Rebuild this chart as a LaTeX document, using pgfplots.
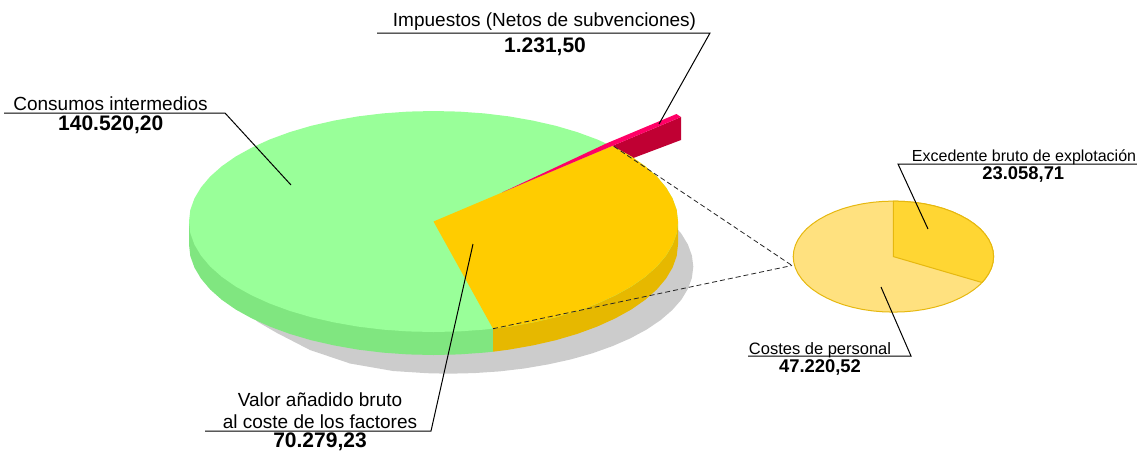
\documentclass[border=0pt]{standalone}
\usepackage{fontspec}
\setmainfont{Liberation Sans}
\usepackage{pgfplots}
\pgfplotsset{compat=1.18}

\definecolor{shadowgray}{HTML}{CCCCCC}
\definecolor{greentop}{HTML}{99FF99}
\definecolor{greenside}{HTML}{80E680}
\definecolor{yellowtop}{HTML}{FFCC00}
\definecolor{yellowside}{HTML}{E6B800}
\definecolor{pinktop}{HTML}{FF0066}
\definecolor{redside}{HTML}{C00033}
\definecolor{sublight}{HTML}{FFE17F}
\definecolor{subdark}{HTML}{FFD633}
\definecolor{subedge}{HTML}{E6B80F}

\newcommand{\lblbig}{\fontsize{19}{19}\selectfont}
\newcommand{\valbig}{\fontsize{21}{21}\selectfont\bfseries}
\newcommand{\lblsmall}{\fontsize{16}{16}\selectfont}
\newcommand{\lblcost}{\fontsize{16.5}{16.5}\selectfont}
\newcommand{\valsmall}{\fontsize{18.4}{18.4}\selectfont\bfseries}

\begin{document}
\begin{tikzpicture}
  \path[use as bounding box] (0,0) rectangle (1137pt,451pt);
  \begin{axis}[
    at={(0,0)}, anchor=south west,
    scale only axis,
    width=1137pt, height=451pt,
    xmin=0, xmax=1137, ymin=0, ymax=451,
    y dir=reverse,
    hide axis,
    clip=false,
    lead/.style={black, line width=1pt},
    dash/.style={black!85, line width=0.8pt, dash pattern=on 5pt off 3pt},
  ]

    % shadow
    \addplot[fill=shadowgray, draw=none] coordinates {
      (660.5,213.2) (672.1,223.2) (681.3,233.6) (687.9,244.5) (691.9,255.5) (693.3,266.7)
      (691.9,277.9) (687.9,288.9) (681.3,299.8) (672.1,310.2) (660.5,320.2) (646.5,329.6)
      (630.4,338.3) (612.3,346.2) (592.4,353.3) (570.9,359.4) (548.1,364.4) (524.1,368.5)
      (499.4,371.4) (474.1,373.1) (448.5,373.7) (427,373.2) (393,371) (350,363.5)
      (310,350) (277,333) (258,322) (245,310)
    } -- cycle;

    % red slice, pulled out
    \addplot[fill=redside, draw=none] coordinates {
      (612,146) (681,117) (681,140) (632,158.5)
    } -- cycle;

    % pie sides
    \addplot[fill=greenside, draw=none] coordinates {
      (189,221.5) (189,244.5) (190.3,256) (194.4,267.5) (201,278.6) (210.1,289.4)
      (221.8,299.8) (235.7,309.5) (251.8,318.4) (269.9,326.6) (289.8,333.9) (311.2,340.2)
      (334.1,345.4) (357.9,349.6) (382.7,352.6) (407.9,354.4) (433.5,355) (459.1,354.4)
      (484.3,352.6) (493,351.7) (493,221.5)
    } -- cycle;
    \addplot[fill=yellowside, draw=none] coordinates {
      (493,351.7) (509.1,349.6) (532.9,345.4) (555.8,340.2) (577.2,333.9) (597.1,326.6)
      (615.2,318.4) (631.3,309.5) (645.2,299.8) (656.9,289.4) (666,278.6) (672.6,267.5)
      (676.7,256) (678,244.5) (678,221.5) (493,221.5)
    } -- cycle;

    % pie top
    \addplot[fill=greentop, draw=none] coordinates {
      (678,221.5) (676.7,210) (672.6,198.5) (666,187.4) (656.9,176.6) (645.2,166.2)
      (631.3,156.5) (615.2,147.6) (597.1,139.4) (577.2,132.1) (555.8,125.8) (532.9,120.6)
      (509.1,116.4) (484.3,113.4) (459.1,111.6) (433.5,111) (407.9,111.6) (382.7,113.4)
      (357.9,116.4) (334.1,120.6) (311.2,125.8) (289.8,132.1) (269.9,139.4) (251.8,147.6)
      (235.7,156.5) (221.8,166.2) (210.1,176.6) (201,187.4) (194.4,198.5) (190.3,210)
      (189,221.5) (190.3,233) (194.4,244.5) (201,255.6) (210.1,266.4) (221.8,276.8)
      (235.7,286.5) (251.8,295.4) (269.9,303.6) (289.8,310.9) (311.2,317.2) (334.1,322.4)
      (357.9,326.6) (382.7,329.6) (407.9,331.4) (433.5,332) (459.1,331.4) (484.3,329.6)
      (509.1,326.6) (532.9,322.4) (555.8,317.2) (577.2,310.9) (597.1,303.6) (615.2,295.4)
      (631.3,286.5) (645.2,276.8) (656.9,266.4) (666,255.6) (672.6,244.5) (676.7,233)
    } -- cycle;
    \addplot[fill=yellowtop, draw=none] coordinates {
      (433.5,221.5) (493,328.7) (509.1,326.6) (532.9,322.4) (555.8,317.2) (577.2,310.9)
      (597.1,303.6) (615.2,295.4) (631.3,286.5) (645.2,276.8) (656.9,266.4) (666,255.6)
      (672.6,244.5) (676.7,233) (678,221.5) (676.7,210) (672.6,198.5) (666,187.4)
      (656.9,176.6) (645.2,166.2) (631.3,156.5) (615.2,147.6) (612,146)
    } -- cycle;

    % pink strip on top of the red slice
    \addplot[fill=pinktop, draw=none] coordinates {
      (502,192.5) (606.7,143.3) (676.5,114) (681,117) (612,146)
    } -- cycle;

    % dashed link to the small pie
    \addplot[dash] coordinates {(614,146.5) (792,265.5)};
    \addplot[dash] coordinates {(493,328.7) (792,265.5)};

    % small pie
    \addplot[fill=sublight, draw=subedge, line width=1pt] coordinates {
      (993.6,256.6) (993,250.8) (991.4,245.1) (988.7,239.5) (984.9,234) (980.2,228.8)
      (974.5,224) (967.9,219.5) (960.4,215.4) (952.3,211.7) (943.5,208.5) (934.2,205.9)
      (924.4,203.8) (914.2,202.3) (903.9,201.4) (893.4,201.1) (882.9,201.4) (872.6,202.3)
      (862.4,203.8) (852.6,205.9) (843.3,208.5) (834.5,211.7) (826.4,215.4) (818.9,219.5)
      (812.3,224) (806.6,228.8) (801.9,234) (798.1,239.5) (795.4,245.1) (793.8,250.8)
      (793.2,256.6) (793.8,262.4) (795.4,268.1) (798.1,273.7) (801.9,279.2) (806.6,284.4)
      (812.3,289.2) (818.9,293.7) (826.4,297.8) (834.5,301.5) (843.3,304.7) (852.6,307.3)
      (862.4,309.4) (872.6,310.9) (882.9,311.8) (893.4,312.1) (903.9,311.8) (914.2,310.9)
      (924.4,309.4) (934.2,307.3) (943.5,304.7) (952.3,301.5) (960.4,297.8) (967.9,293.7)
      (974.5,289.2) (980.2,284.4) (984.9,279.2) (988.7,273.7) (991.4,268.1) (993,262.4)
    } -- cycle;
    \addplot[fill=subdark, draw=subedge, line width=1pt] coordinates {
      (893.4,256.6) (893.4,201.1) (903.9,201.4) (914.2,202.3) (924.4,203.8) (934.2,205.9)
      (943.5,208.5) (952.3,211.7) (960.4,215.4) (967.9,219.5) (974.5,224) (980.2,228.8)
      (984.9,234) (988.7,239.5) (991.4,245.1) (993,250.8) (993.6,256.6) (993,262.4)
      (991.4,268.1) (988.7,273.7) (984.9,279.2) (982,282.5)
    } -- cycle;

    % leader lines
    \addplot[lead] coordinates {(377,33) (710,33) (659,124)};
    \addplot[lead] coordinates {(4,113) (225,113) (291,185)};
    \addplot[lead] coordinates {(205,431) (431,431) (473,244)};
    \addplot[lead] coordinates {(1137,164) (898,164) (928,229)};
    \addplot[lead] coordinates {(748,356) (911,356) (881,287)};

    % labels
    \node[anchor=base, font=\lblbig] at (axis cs:544.5,26.7) {Impuestos (Netos de subvenciones)};
    \node[anchor=base, font=\valbig] at (axis cs:545,52) {1.231,50};
    \node[anchor=base, font=\lblbig] at (axis cs:110.5,110) {Consumos intermedios};
    \node[anchor=base, font=\valbig] at (axis cs:110.7,130.7) {140.520,20};
    \node[anchor=base, font=\lblbig] at (axis cs:320,406) {Valor añadido bruto};
    \node[anchor=base, font=\lblbig] at (axis cs:320,428) {al coste de los factores};
    \node[anchor=base, font=\valbig] at (axis cs:320,447.7) {70.279,23};
    \node[anchor=base, font=\lblsmall] at (axis cs:1024,161) {Excedente bruto de explotación};
    \node[anchor=base, font=\valsmall] at (axis cs:1023.3,179) {23.058,71};
    \node[anchor=base, font=\lblcost] at (axis cs:820,354.3) {Costes de personal};
    \node[anchor=base, font=\valsmall] at (axis cs:820,372) {47.220,52};
  \end{axis}
\end{tikzpicture}
\end{document}
